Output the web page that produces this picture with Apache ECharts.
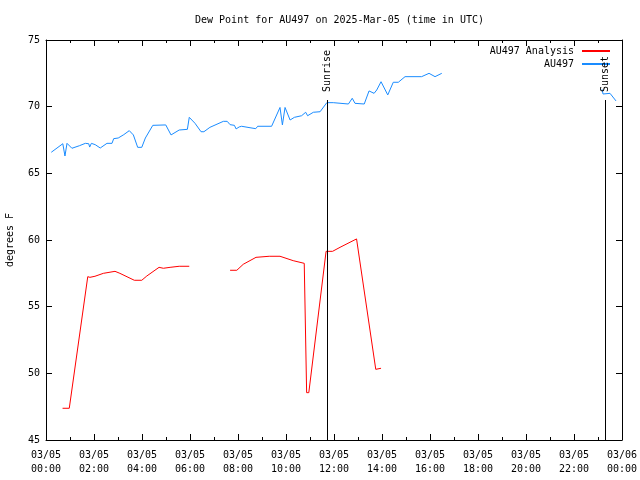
<!DOCTYPE html>
<html>
<head>
<meta charset="utf-8">
<script src="https://cdn.jsdelivr.net/npm/echarts@6/dist/echarts.min.js"></script>
<style>html,body{margin:0;padding:0;background:#fff}#c{width:640px;height:480px}</style>
</head>
<body>
<div id="c"></div>
<script>
// hours (UTC) since 2025-03-05 00:00
const obsHours = [0.22,0.70,0.79,0.875,1.08,1.39,1.64,1.78,1.82,1.89,2.05,2.26,2.54,2.75,2.82,3.01,3.24,3.47,3.64,3.82,3.99,4.14,4.45,4.99,5.21,5.55,5.89,5.97,6.21,6.46,6.58,6.83,7.39,7.55,7.67,7.85,7.92,8.05,8.15,8.5,8.74,8.82,9.4,9.75,9.85,9.96,10.17,10.35,10.65,10.82,10.9,11.14,11.42,11.7,11.97,12.6,12.76,12.875,13.26,13.46,13.67,13.78,13.96,14.24,14.47,14.68,14.96,15.65,15.96,16.21,16.49,16.5,23.17,23.21,23.5,23.75];
const obsValues = [66.58,67.22,66.3,67.25,66.88,67.07,67.25,67.22,66.97,67.25,67.15,66.9,67.25,67.25,67.6,67.65,67.9,68.2,67.88,66.95,66.95,67.65,68.6,68.63,67.88,68.25,68.3,69.2,68.75,68.12,68.12,68.45,68.9,68.9,68.65,68.6,68.33,68.48,68.53,68.42,68.35,68.53,68.53,69.94,68.63,69.94,69.0,69.2,69.32,69.58,69.32,69.58,69.62,70.3,70.3,70.2,70.63,70.25,70.2,71.18,71.0,71.25,71.87,70.88,71.83,71.83,72.25,72.25,72.5,72.25,72.5,null,71.3,70.95,71.0,70.43];
const anaHours = [0.69,0.97,1.74,1.83,2.04,2.39,2.875,3.08,3.68,3.99,4.2,4.71,4.89,5.17,5.55,5.97,6.0,7.67,7.95,8.22,8.75,9.3,9.75,10.3,10.76,10.86,10.95,11.67,11.94,12.25,12.94,13.74,13.96];
const anaValues = [47.38,47.38,57.25,57.2,57.28,57.5,57.65,57.5,56.98,56.98,57.3,57.95,57.88,57.95,58.03,58.03,null,57.73,57.73,58.18,58.7,58.78,58.78,58.45,58.25,48.55,48.55,59.15,59.15,59.45,60.08,50.3,50.38];
const xTickLabels = ['03/05\n00:00','03/05\n02:00','03/05\n04:00','03/05\n06:00','03/05\n08:00','03/05\n10:00','03/05\n12:00','03/05\n14:00','03/05\n16:00','03/05\n18:00','03/05\n20:00','03/05\n22:00','03/06\n00:00'];
const yTicks = [45,50,55,60,65,70,75];
const sunEvents = ['Sunrise','Sunset'];
const sunHours = [11.708,23.29];
const sunLineTop = 70.5;

const FONT = 'DejaVu Sans Mono';
const chart = echarts.init(document.getElementById('c'), null, {renderer:'canvas'});

const markData = [];
sunEvents.forEach((name,i)=>{
  markData.push([{coord:[sunHours[i],45]},{coord:[sunHours[i],sunLineTop]}]);
  markData.push([{coord:[sunHours[i],sunLineTop],lineStyle:{width:0,color:'rgba(0,0,0,0)'},
    label:{show:true,formatter:name,position:'insideStart',distance:[8,0],color:'#000',fontFamily:FONT,fontSize:10}},
    {coord:[sunHours[i],75]}]);
});

const axisCommon = {
  type:'value', min:0, max:24, interval:2,
  axisLine:{show:true,onZero:false,lineStyle:{color:'#000',width:1}},
  axisTick:{show:true,inside:true,length:6,lineStyle:{color:'#000'}},
  minorTick:{show:true,splitNumber:2,length:3,lineStyle:{color:'#000'}},
  splitLine:{show:false}
};
const yCommon = {
  type:'value', min:45, max:75, interval:5,
  axisLine:{show:true,onZero:false,lineStyle:{color:'#000',width:1}},
  axisTick:{show:true,inside:true,length:6,lineStyle:{color:'#000'}},
  splitLine:{show:false}
};

chart.setOption({
  animation:false,
  backgroundColor:'#fff',
  title:{text:'Dew Point for AU497 on 2025-Mar-05 (time in UTC)',left:190,top:10,
    textStyle:{fontFamily:FONT,fontSize:10,fontWeight:'normal',color:'#000'}},
  legend:{orient:'vertical',right:30,top:45,padding:0,align:'right',itemWidth:28,itemHeight:2,itemGap:1,
    icon:'rect',textStyle:{fontFamily:FONT,fontSize:10,color:'#000',lineHeight:12,padding:[0,3,0,0]},
    data:['AU497 Analysis','AU497']},
  grid:{left:46,right:18,top:40,bottom:40,containLabel:false,outerBoundsMode:'none'},
  xAxis:[
    Object.assign({},axisCommon,{position:'bottom',
      axisLabel:{show:true,margin:8,fontFamily:FONT,fontSize:10,color:'#000',lineHeight:14,
        formatter:(v)=>xTickLabels[Math.round(v/2)]}}),
    Object.assign({},axisCommon,{position:'top',axisLabel:{show:false}})
  ],
  yAxis:[
    Object.assign({},yCommon,{position:'left',name:'degrees F',nameLocation:'middle',nameGap:31,
      nameTextStyle:{fontFamily:FONT,fontSize:10,color:'#000'},
      axisLabel:{show:true,margin:6,fontFamily:FONT,fontSize:10,color:'#000',
        formatter:(v)=>yTicks.includes(v)?String(v):''}}),
    Object.assign({},yCommon,{position:'right',axisLabel:{show:false}})
  ],
  series:[
    {name:'AU497 Analysis',type:'line',showSymbol:false,symbol:'none',connectNulls:false,
      lineStyle:{color:'#ff0000',width:1},itemStyle:{color:'#ff0000'},
      data:anaHours.map((h,i)=>[h,anaValues[i]]),
      markLine:{silent:true,symbol:['none','none'],lineStyle:{color:'#000',width:1,type:'solid'},
        label:{show:false},data:markData}},
    {name:'AU497',type:'line',showSymbol:false,symbol:'none',connectNulls:false,
      lineStyle:{color:'#1a8cff',width:1},itemStyle:{color:'#1a8cff'},
      data:obsHours.map((h,i)=>[h,obsValues[i]])}
  ]
});
</script>
</body>
</html>
